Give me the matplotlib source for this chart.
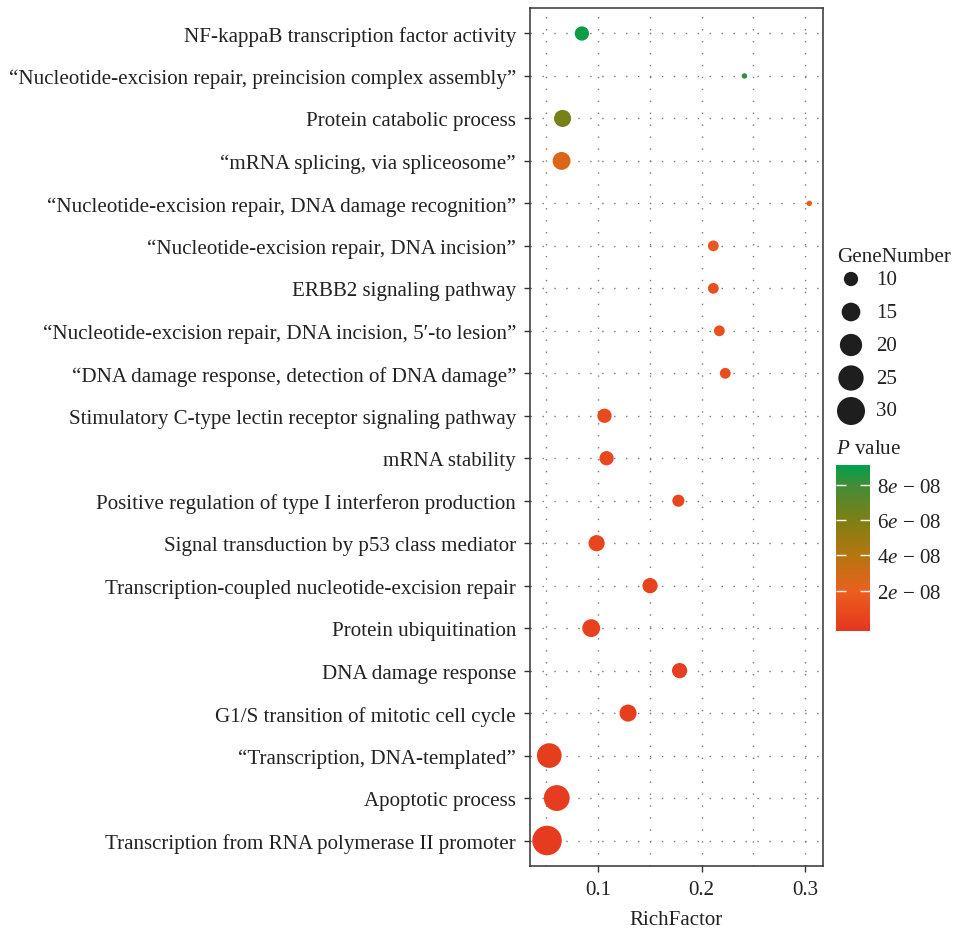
import matplotlib

matplotlib.use("Agg")
import matplotlib.pyplot as plt
import numpy as np
from matplotlib.colors import LinearSegmentedColormap, Normalize
from matplotlib.cm import ScalarMappable

plt.rcParams["font.family"] = ["Liberation Serif", "DejaVu Serif"]
plt.rcParams["mathtext.fontset"] = "custom"
plt.rcParams["mathtext.rm"] = "Liberation Serif"
plt.rcParams["mathtext.it"] = "Liberation Serif:italic"
plt.rcParams["lines.scale_dashes"] = False

# GO terms, top to bottom
terms = [
    "NF-kappaB transcription factor activity",
    "\u201cNucleotide-excision repair, preincision complex assembly\u201d",
    "Protein catabolic process",
    "\u201cmRNA splicing, via spliceosome\u201d",
    "\u201cNucleotide-excision repair, DNA damage recognition\u201d",
    "\u201cNucleotide-excision repair, DNA incision\u201d",
    "ERBB2 signaling pathway",
    "\u201cNucleotide-excision repair, DNA incision, 5\u2032-to lesion\u201d",
    "\u201cDNA damage response, detection of DNA damage\u201d",
    "Stimulatory C-type lectin receptor signaling pathway",
    "mRNA stability",
    "Positive regulation of type I interferon production",
    "Signal transduction by p53 class mediator",
    "Transcription-coupled nucleotide-excision repair",
    "Protein ubiquitination",
    "DNA damage response",
    "G1/S transition of mitotic cell cycle",
    "\u201cTranscription, DNA-templated\u201d",
    "Apoptotic process",
    "Transcription from RNA polymerase II promoter",
]
rich_factor = [0.0846, 0.2413, 0.066, 0.065, 0.3038, 0.2113, 0.2113, 0.2171, 0.2228, 0.1064,
               0.1084, 0.1776, 0.0988, 0.1503, 0.0936, 0.1788, 0.1291, 0.0532, 0.0604, 0.051]
gene_number = [10, 4, 13, 14, 4, 7, 7, 7, 7, 10, 10, 8, 12, 11, 14, 11, 13, 24, 26, 33]
p_value = [8.9e-8, 8.4e-8, 6.2e-8, 2.6e-8, 1.9e-8, 1.5e-8, 1.3e-8, 1.2e-8, 1.0e-8, 0.8e-8,
           0.7e-8, 0.6e-8, 0.5e-8, 0.4e-8, 0.3e-8, 0.2e-8, 0.15e-8, 0.1e-8, 0.05e-8, 0.01e-8]

size_breaks = [10, 15, 20, 25, 30]
p_ticks = [2e-8, 4e-8, 6e-8, 8e-8]
p_tick_labels = ["2$e$ \u2212 08", "4$e$ \u2212 08", "6$e$ \u2212 08", "8$e$ \u2212 08"]

DPI = 100
FS = 15.1
SPINE = "#333333"
GRID = "#777777"
TXT = "#222222"

cmap = LinearSegmentedColormap.from_list(
    "pval",
    [(0.0, "#e5361f"), (0.243, "#eb5f1e"), (0.455, "#b5760f"),
     (0.667, "#7e7f14"), (0.878, "#438c38"), (1.0, "#00a14b")],
)
norm = Normalize(vmin=-0.3e-8, vmax=9.15e-8)


def marker_area(n):
    # diameter in px grows so that area is linear in gene count
    d_px = np.sqrt(29.0 * np.asarray(n, dtype=float) - 86.0)
    return (d_px * 72.0 / DPI) ** 2


fig = plt.figure(figsize=(9.57, 9.29), dpi=DPI)
ax = fig.add_axes([530 / 957, 1 - 867 / 929, 293 / 957, 858 / 929])

ypos = np.arange(len(terms))[::-1]
ax.scatter(rich_factor, ypos, s=marker_area(gene_number), c=p_value, cmap=cmap, norm=norm,
           linewidths=0, zorder=3, clip_on=False)

ax.set_ylim(-0.6, len(terms) - 0.4)
ax.set_xlim(0.0346, 0.317)
ax.set_yticks(ypos)
ax.set_yticklabels(terms, fontsize=FS)
ax.set_xticks([0.1, 0.2, 0.3])
ax.set_xticklabels(["0.1", "0.2", "0.3"], fontsize=FS)
ax.set_xticks([0.05, 0.15, 0.25], minor=True)
ax.tick_params(axis="both", which="major", length=4, width=1.0, color=SPINE, pad=6, labelcolor=TXT)
ax.tick_params(axis="x", which="minor", length=0)
ax.set_xlabel("RichFactor", fontsize=FS, color=TXT, labelpad=8)

dots = (0, (1.0, 7.6))
ax.grid(which="major", axis="both", color=GRID, linestyle=dots, linewidth=1.0)
ax.grid(which="minor", axis="x", color=GRID, linestyle=dots, linewidth=1.0)
ax.set_axisbelow(True)
for sp in ax.spines.values():
    sp.set_color(SPINE)
    sp.set_linewidth(1.1)

# size legend drawn in a pixel-coordinate overlay
leg = fig.add_axes([0, 0, 1, 1], facecolor="none")
leg.set_xlim(0, 957)
leg.set_ylim(929, 0)
leg.axis("off")
leg.text(837, 257, "GeneNumber", fontsize=FS, ha="left", va="center", color=TXT)
leg_y = [280 + 33 * i for i in range(len(size_breaks))]
leg.scatter([851] * len(size_breaks), leg_y, s=marker_area(size_breaks), color="#1e1e1e", linewidths=0)
for yy, lab in zip(leg_y, size_breaks):
    leg.text(876, yy, str(lab), fontsize=FS, ha="left", va="center", color=TXT)
leg.text(836, 450, r"$P$ value", fontsize=FS, ha="left", va="center", color=TXT)

cax = fig.add_axes([836 / 957, 1 - 632 / 929, 34 / 957, 166 / 929])
cb = fig.colorbar(ScalarMappable(norm=norm, cmap=cmap), cax=cax)
cb.outline.set_visible(False)
cb.set_ticks(p_ticks)
cb.set_ticklabels(p_tick_labels)
cax.tick_params(axis="y", direction="in", color="white", length=7, width=1.0,
                left=True, right=True, labelsize=FS, pad=5, labelcolor=TXT)

fig.savefig("out.png", dpi=DPI)
